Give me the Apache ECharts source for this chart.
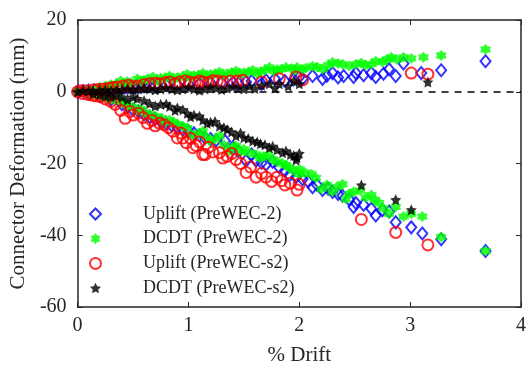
<!DOCTYPE html>
<html>
<head>
<meta charset="utf-8">
<script src="https://cdn.jsdelivr.net/npm/echarts@6/dist/echarts.min.js"></script>
<style>html,body{margin:0;padding:0;background:#fff}#c{width:529px;height:371px}</style>
</head>
<body>
<div id="c"></div>
<script>
// ---- data ----
const seriesNames = ['Uplift (PreWEC-2)', 'DCDT (PreWEC-2)', 'Uplift (PreWEC-s2)', 'DCDT (PreWEC-s2)'];
const xTicks = [0, 1, 2, 3, 4];
const yTicks = [-60, -40, -20, 0, 20];

const upliftP2Drift = [0,0.05,0.1,0.15,0.2,0.25,0.3,0.4,0.45,0.5,0.55,0.6,0.65,0.7,0.8,0.9,1.0,1.1,1.2,1.3,1.4,1.45,1.52,1.57,1.66,1.7,1.78,1.87,1.95,2.0,2.03,2.12,2.21,2.25,2.30,2.35,2.40,2.49,2.51,2.58,2.65,2.69,2.76,2.81,2.87,2.94,3.10,3.28,3.68,
  0.1,0.2,0.3,0.4,0.45,0.5,0.55,0.6,0.65,0.7,0.75,0.8,0.85,0.9,0.95,1.0,1.05,1.1,1.15,1.2,1.25,1.33,1.4,1.45,1.52,1.57,1.61,1.66,1.70,1.76,1.82,1.87,1.91,1.97,2.03,2.08,2.12,2.16,2.21,2.26,2.30,2.35,2.39,2.45,2.49,2.51,2.58,2.65,2.69,2.75,2.81,2.87,3.01,3.11,3.28,3.68];
const upliftP2Def = [0,0.2,0.3,0.4,0.6,0.7,0.8,1.0,1.1,1.2,1.3,1.5,1.6,1.7,1.9,2.0,2.2,2.3,2.5,2.6,2.6,2.4,2.7,3.0,2.2,3.2,3.6,3.0,3.4,4.1,3.6,4.4,3.6,4.5,5.2,4.0,4.4,4.1,5.2,4.6,5.2,4.1,5.0,6.3,4.4,7.9,5.2,6.0,8.5,
  -0.5,-1.2,-2.2,-3.5,-4.2,-5.0,-5.5,-6.3,-7.0,-7.5,-8.2,-8.8,-9.4,-10.0,-10.5,-11.0,-11.6,-12.2,-12.8,-13.2,-13.5,-13.7,-15.5,-16.5,-19.2,-17.5,-19.2,-19.8,-20.3,-19.5,-21.1,-22.0,-23.3,-23.8,-24.4,-25.0,-26.6,-26.0,-27.4,-27.0,-27.9,-28.5,-29.0,-30.0,-32.1,-31.0,-31.5,-32.6,-34.5,-33.0,-33.4,-36.4,-37.8,-39.5,-41.1,-44.4];

const dcdtP2Drift = [0,0.05,0.1,0.15,0.2,0.25,0.3,0.32,0.35,0.39,0.42,0.45,0.48,0.54,0.57,0.6,0.63,0.68,0.72,0.75,0.79,0.83,0.86,0.9,0.95,0.99,1.02,1.05,1.09,1.13,1.16,1.2,1.24,1.28,1.31,1.35,1.39,1.43,1.46,1.5,1.54,1.58,1.62,1.65,1.69,1.73,1.77,1.8,1.84,1.88,1.93,1.96,1.98,2.03,2.06,2.12,2.16,2.21,2.26,2.30,2.35,2.39,2.45,2.51,2.56,2.6,2.65,2.69,2.75,2.79,2.83,2.88,2.94,3.01,3.12,3.28,3.68,
  0.1,0.15,0.2,0.25,0.3,0.34,0.39,0.42,0.45,0.5,0.54,0.57,0.6,0.65,0.7,0.76,0.79,0.83,0.86,0.9,0.95,0.99,1.04,1.08,1.13,1.16,1.19,1.24,1.28,1.32,1.37,1.4,1.43,1.47,1.5,1.55,1.61,1.65,1.68,1.72,1.76,1.8,1.85,1.88,1.91,1.95,2.0,2.0,2.05,2.11,2.15,2.20,2.25,2.30,2.34,2.39,2.42,2.45,2.49,2.55,2.6,2.65,2.68,2.72,2.76,2.81,2.87,2.94,3.01,3.11,3.28,3.68];
const dcdtP2Def = [0,0.3,0.5,0.8,1.2,1.5,2.0,1.6,2.2,3.0,2.2,2.8,2.5,3.6,2.9,3.2,3.5,4.1,3.1,3.8,3.9,4.4,3.6,4.0,4.3,4.9,3.9,4.5,4.6,5.2,4.3,4.8,5.0,5.5,4.6,5.0,5.4,5.8,4.9,5.3,5.5,6.0,5.1,5.6,6.1,6.8,5.7,6.2,6.3,6.8,6.5,6.0,6.8,6.3,6.6,7.1,6.9,6.3,7.4,8.2,7.9,7.7,7.2,7.7,8.0,7.4,7.7,8.5,8.3,9.0,9.6,9.0,9.6,9.3,9.6,10.1,11.8,
  -0.5,-0.8,-1.2,-1.6,-2.0,-2.4,-2.7,-3.2,-3.8,-4.3,-5.2,-4.8,-5.8,-6.3,-6.8,-7.3,-8.5,-7.9,-8.4,-9.0,-9.6,-10.1,-12.1,-11.8,-11.0,-12.6,-13.7,-13.2,-12.3,-14.8,-16.4,-15.5,-15.1,-16.8,-16.0,-17.0,-17.5,-18.5,-18.0,-17.6,-18.9,-19.5,-20.0,-20.5,-21.1,-22.0,-21.6,-23.0,-22.5,-23.0,-24.0,-27.1,-26.0,-27.9,-26.5,-25.8,-29.9,-28.5,-27.9,-27.5,-29.5,-28.8,-30.1,-31.0,-32.5,-34.0,-32.1,-34.8,-34.0,-34.8,-40.5,-44.4];

const upliftS2Drift = [0,0.03,0.08,0.14,0.18,0.23,0.28,0.32,0.36,0.41,0.46,0.5,0.54,0.6,0.65,0.7,0.74,0.79,0.83,0.88,0.92,0.97,1.01,1.06,1.1,1.13,1.18,1.22,1.26,1.31,1.38,1.44,1.49,1.66,1.82,1.97,2.03,3.01,3.16,
  0.05,0.1,0.14,0.17,0.21,0.25,0.30,0.34,0.39,0.43,0.47,0.5,0.55,0.59,0.63,0.67,0.7,0.74,0.78,0.82,0.86,0.90,0.93,0.95,0.98,1.02,1.04,1.07,1.10,1.13,1.15,1.18,1.22,1.28,1.31,1.35,1.39,1.43,1.47,1.52,1.56,1.61,1.66,1.70,1.75,1.80,1.84,1.87,1.92,1.98,2.0,2.56,2.87,3.16];
const upliftS2Def = [0,0.3,0.3,0.5,0.6,0.8,1.0,1.2,1.3,1.6,1.8,1.4,1.6,2.0,2.2,2.4,2.2,2.5,2.7,2.2,2.7,3.0,2.7,2.5,3.0,2.7,2.6,3.1,3.0,2.8,3.0,3.0,3.2,2.7,3.6,4.1,3.3,5.2,4.9,
  -0.5,-0.8,-1.0,-1.2,-1.4,-2.0,-2.7,-3.5,-5.2,-7.4,-5.5,-6.5,-6.0,-7.2,-8.8,-8.0,-9.5,-8.8,-9.2,-10.0,-11.0,-12.9,-11.5,-12.9,-14.2,-13.0,-15.6,-15.0,-14.0,-17.5,-17.5,-15.5,-16.8,-17.0,-18.5,-18.0,-17.2,-18.9,-20.0,-22.5,-21.0,-23.8,-22.8,-23.8,-25.0,-23.8,-24.8,-26.0,-25.5,-27.4,-25.8,-35.6,-39.2,-42.7];

const dcdtS2Drift = [0,0.05,0.1,0.14,0.2,0.25,0.3,0.35,0.4,0.45,0.5,0.55,0.6,0.65,0.7,0.75,0.8,0.85,0.9,0.95,1.0,1.05,1.1,1.15,1.2,1.25,1.3,1.35,1.4,1.45,1.5,1.55,1.6,1.66,1.73,1.78,1.82,1.9,1.95,2.0,3.16,
  0.14,0.2,0.25,0.3,0.35,0.4,0.45,0.5,0.54,0.6,0.65,0.7,0.75,0.8,0.83,0.88,0.9,0.95,0.99,1.02,1.05,1.1,1.13,1.17,1.2,1.24,1.28,1.32,1.35,1.39,1.43,1.47,1.5,1.54,1.58,1.62,1.65,1.69,1.73,1.76,1.8,1.85,1.88,1.92,1.95,1.97,1.98,2.0,2.56,2.87,3.01];
const dcdtS2Def = [0,0.3,0.2,0.3,0.4,0.5,0.3,0.5,0.6,0.8,0.5,0.8,1.0,0.8,0.5,0.8,1.1,0.8,0.5,0.8,1.2,0.8,0.4,0.8,1.3,1.0,0.6,1.0,1.4,1.0,0.8,1.6,0.9,1.8,2.2,1.0,2.2,1.6,3.0,2.2,2.7,
  -0.5,-0.8,-1.2,-1.4,-1.0,-1.5,-2.2,-1.5,-1.9,-2.5,-3.3,-4.0,-3.5,-3.4,-4.1,-5.2,-4.5,-5.0,-6.0,-7.0,-6.5,-6.8,-7.9,-8.8,-8.5,-8.3,-9.6,-10.0,-10.5,-11.2,-12.3,-11.5,-12.8,-13.0,-13.7,-14.0,-14.5,-14.8,-15.6,-15.2,-16.2,-17.0,-16.5,-17.5,-17.8,-19.0,-18.4,-17.2,-26.0,-30.1,-32.9];

const zeroLevel = 0;

// ---- build ----
function zip(xs, ys) { return xs.map((x, i) => [x, ys[i]]); }
const hexagram = 'path://M50 0 L67 21 L93.3 25 L84 50 L93.3 75 L67 79 L50 100 L33 79 L6.7 75 L16 50 L6.7 25 L33 21 Z';
const pentagram = 'path://M50 0 L64.7 29.8 L97.6 34.5 L73.8 57.7 L79.4 90.5 L50 75 L20.6 90.5 L26.2 57.7 L2.4 34.5 L35.3 29.8 Z';
const FONT = '"Liberation Serif", "Times New Roman", serif';
const axisCol = '#262626';

const chart = echarts.init(document.getElementById('c'), null, {renderer: 'canvas'});
const baseAxis = {
  axisLine: {show: true, onZero: false, lineStyle: {color: axisCol, width: 1.5}},
  axisTick: {show: true, inside: true, length: 5, lineStyle: {color: axisCol, width: 1}},
  splitLine: {show: false},
};
chart.setOption({
  animation: false,
  backgroundColor: '#fff',
  grid: {left: 77, right: 6, top: 20, bottom: 58},
  legend: {
    orient: 'vertical', left: 84, top: 200, itemGap: 6.7,
    itemWidth: 11, itemHeight: 11,
    textStyle: {fontFamily: FONT, fontSize: 18, color: axisCol, lineHeight: 18, padding: [0, 0, 0, 37]},
    data: seriesNames
  },
  xAxis: [
    Object.assign({}, baseAxis, {type: 'value', min: xTicks[0], max: xTicks[xTicks.length - 1], interval: 1, position: 'bottom',
      name: '% Drift', nameLocation: 'middle', nameGap: 38,
      nameTextStyle: {fontFamily: FONT, fontSize: 21, color: axisCol},
      axisLabel: {fontFamily: FONT, fontSize: 20, color: axisCol, margin: 9}}),
    Object.assign({}, baseAxis, {type: 'value', min: xTicks[0], max: xTicks[xTicks.length - 1], interval: 1, position: 'top',
      axisLabel: {show: false}})
  ],
  yAxis: [
    Object.assign({}, baseAxis, {type: 'value', min: yTicks[0], max: yTicks[yTicks.length - 1], interval: 20, position: 'left',
      name: 'Connector Deformation (mm)', nameLocation: 'middle', nameGap: 45,
      nameTextStyle: {fontFamily: FONT, fontSize: 21, color: axisCol},
      axisLabel: {fontFamily: FONT, fontSize: 20, color: axisCol, margin: 11}}),
    Object.assign({}, baseAxis, {type: 'value', min: yTicks[0], max: yTicks[yTicks.length - 1], interval: 20, position: 'right',
      axisLabel: {show: false}})
  ],
  series: [
    {name: seriesNames[0], type: 'scatter', symbol: 'diamond', symbolSize: [10, 12],
      itemStyle: {color: 'rgba(0,0,0,0)', borderColor: '#0000ff', borderWidth: 2},
      data: zip(upliftP2Drift, upliftP2Def),
      markLine: {silent: true, symbol: 'none', label: {show: false},
        lineStyle: {color: '#000', type: [7, 6], width: 1.6}, data: [{yAxis: zeroLevel}]}},
    {name: seriesNames[1], type: 'scatter', symbol: hexagram, symbolSize: 11,
      itemStyle: {color: '#00ff00'}, data: zip(dcdtP2Drift, dcdtP2Def)},
    {name: seriesNames[2], type: 'scatter', symbol: 'circle', symbolSize: 11,
      itemStyle: {color: 'rgba(0,0,0,0)', borderColor: '#ff0000', borderWidth: 2},
      data: zip(upliftS2Drift, upliftS2Def)},
    {name: seriesNames[3], type: 'scatter', symbol: pentagram, symbolSize: 11,
      itemStyle: {color: '#000000'}, data: zip(dcdtS2Drift, dcdtS2Def)}
  ]
});
</script>
</body>
</html>
